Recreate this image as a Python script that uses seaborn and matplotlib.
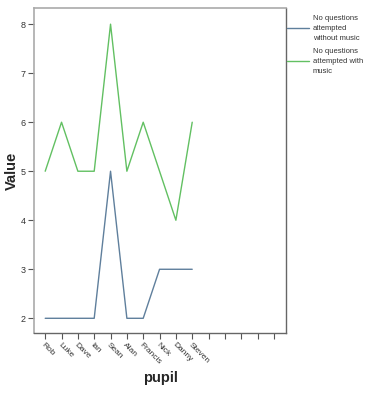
import matplotlib
matplotlib.use("Agg")
import matplotlib.pyplot as plt
import seaborn as sns
import pandas as pd

pupils = ["Rob", "Luke", "Dave", "Ian", "Sean", "Alan", "Francis", "Nick", "Danny", "Steven"]
empty_slots = ["", "", "", "", ""]
without_music = [2, 2, 2, 2, 5, 2, 2, 3, 3, 3]
with_music = [5, 6, 5, 5, 8, 5, 6, 5, 4, 6]
series_names = ["No questions\nattempted\nwithout music", "No questions\nattempted with\nmusic"]
y_ticks = [2, 3, 4, 5, 6, 7, 8]

sns.set_theme(style="white")
plt.rcParams['font.family'] = ['Liberation Sans', 'DejaVu Sans']

rows = []
for i, p in enumerate(pupils):
    rows.append({"pos": i, "pupil": p, "Value": without_music[i], "series": series_names[0]})
    rows.append({"pos": i, "pupil": p, "Value": with_music[i], "series": series_names[1]})
df = pd.DataFrame(rows)

fig = plt.figure(figsize=(3.77, 4.0), dpi=100)
ax = fig.add_axes([0.090, 0.1675, 0.669, 0.8125])

sns.lineplot(data=df, x="pos", y="Value", hue="series",
             palette=["#5f7f9c", "#62c062"], linewidth=1.0, ax=ax, legend=False)

labels = pupils + empty_slots
ax.set_xticks(range(len(labels)))
ax.set_xticklabels(labels, rotation=-45, ha="left", va="top", fontsize=6,
                   rotation_mode="anchor", color="#333333")
ax.set_xlim(-0.69, len(labels) - 1 + 0.75)
ax.set_ylim(1.7, 8.33)
ax.set_yticks(y_ticks)
ax.set_yticklabels([str(v) for v in y_ticks], fontsize=6.5, color="#333333")
ax.tick_params(axis="both", which="both", direction="out", length=4, width=0.8,
               color="#555555", bottom=True, left=True, pad=2)
ax.set_xlabel("pupil", fontsize=10.5, fontweight="bold", va="center")
ax.set_ylabel("Value", fontsize=10.5, fontweight="bold", va="center")
ax.xaxis.set_label_coords(0.5, -0.138)
ax.yaxis.set_label_coords(-0.087, 0.50)
for s in ["left", "top"]:
    ax.spines[s].set_color("#aaaaaa")
    ax.spines[s].set_linewidth(1.2)
for s in ["right", "bottom"]:
    ax.spines[s].set_color("#666666")
    ax.spines[s].set_linewidth(1.0)

handles = ax.get_lines()[:2]
leg = fig.legend(handles, series_names, loc="upper left", bbox_to_anchor=(0.760, 0.962),
                 frameon=False, fontsize=5.5, handlelength=2.9, handletextpad=0.55,
                 borderpad=0, borderaxespad=0, labelspacing=0.85, labelcolor="#333333")
for t in leg.get_texts():
    t.set_linespacing(1.55)

fig.savefig("out.png", dpi=100)
